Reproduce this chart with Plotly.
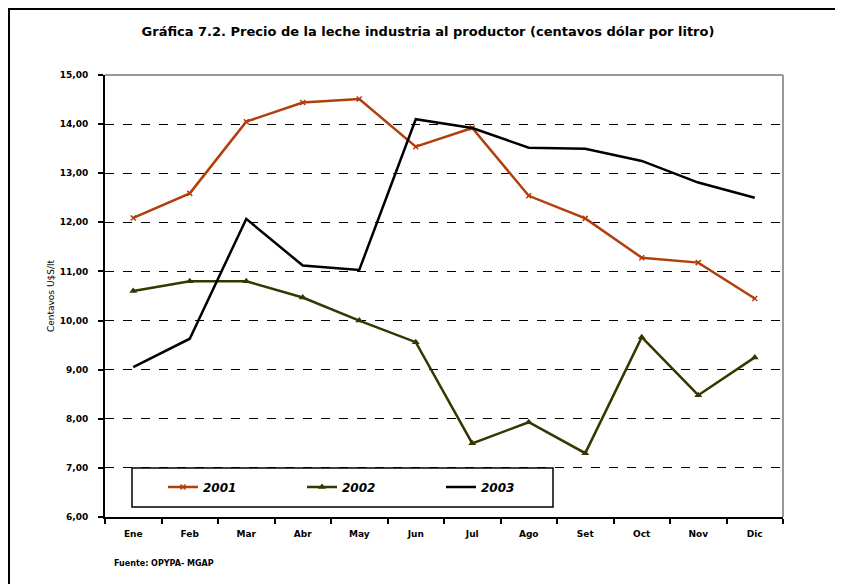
import plotly.graph_objects as go

months = ["Ene", "Feb", "Mar", "Abr", "May", "Jun", "Jul", "Ago", "Set", "Oct", "Nov", "Dic"]
v2001 = [12.09, 12.59, 14.05, 14.44, 14.51, 13.54, 13.92, 12.54, 12.08, 11.28, 11.18, 10.45]
v2002 = [10.60, 10.80, 10.80, 10.47, 10.00, 9.56, 7.50, 7.93, 7.30, 9.66, 8.48, 9.25]
v2003 = [9.05, 9.63, 12.07, 11.12, 11.03, 14.10, 13.92, 13.52, 13.50, 13.25, 12.81, 12.50]
yticks = [6, 7, 8, 9, 10, 11, 12, 13, 14, 15]

FONT = "DejaVu Sans"
OFF = 8  # page body margin
W, H = 843 - OFF, 584 - OFF
# plot area in page pixel coordinates
PL, PR, PT, PB = 105, 783, 75, 517
L, R, T, B = PL - OFF, W - (PR - OFF), PT - OFF, H - (PB - OFF)
pw, ph = PR - PL, PB - PT

def px(x):
    return (x - PL) / pw

def py(y):
    return (PB - y) / ph

fig = go.Figure()
fig.add_trace(go.Scatter(x=months, y=v2001, name="2001", mode="lines+markers",
                         line=dict(color="#B23E0C", width=2.5),
                         marker=dict(symbol="x-thin", size=5, color="#B23E0C",
                                     line=dict(color="#B23E0C", width=1.5))))
fig.add_trace(go.Scatter(x=months, y=v2002, name="2002", mode="lines+markers",
                         line=dict(color="#363600", width=2.5),
                         marker=dict(symbol="triangle-up", size=7, color="#363600")))
fig.add_trace(go.Scatter(x=months, y=v2003, name="2003", mode="lines",
                         line=dict(color="#000000", width=2.5)))

fig.update_layout(
    width=W, height=H,
    margin=dict(l=L, r=R, t=T, b=B),
    paper_bgcolor="white", plot_bgcolor="white",
    separators=",.",
    font=dict(family=FONT, size=9, color="#000"),
    title=dict(text="<b>Gráfica 7.2. Precio de la leche industria al productor (centavos dólar por litro)</b>",
               x=(428 - OFF) / W, xanchor="center", y=1 - (31 - OFF) / H, yanchor="middle",
               font=dict(family=FONT, size=13, color="#000")),
    xaxis=dict(type="category", tickson="boundaries", ticks="outside", ticklen=5,
               tickcolor="#000", tickwidth=1.5, showline=True, linecolor="#000", linewidth=2,
               showgrid=False, range=[-0.5, 11.5], ticklabelstandoff=7,
               tickfont=dict(family=FONT, size=9, weight="bold")),
    yaxis=dict(range=[6, 15], tickvals=yticks, tickformat=".2f", ticks="outside", ticklen=5,
               tickcolor="#000", tickwidth=1.5, showline=True, linecolor="#000", linewidth=2,
               showgrid=True, gridcolor="#000", gridwidth=1, griddash="dash",
               zeroline=False, ticklabelstandoff=8,
               tickfont=dict(family=FONT, size=9, weight="bold"),
               title=dict(text="Centavos U$S/lt", standoff=4,
                          font=dict(family=FONT, size=9))),
    legend=dict(orientation="h", x=px(163), y=py(487), xanchor="left", yanchor="middle",
                bgcolor="rgba(0,0,0,0)", borderwidth=0,
                entrywidth=94, entrywidthmode="pixels", itemwidth=30,
                font=dict(family=FONT, size=12, weight="bold", style="italic", color="#000")),
    showlegend=True,
)

# legend box
fig.add_shape(type="rect", xref="paper", yref="paper",
              x0=px(132), x1=px(553), y0=py(507), y1=py(468),
              line=dict(color="#000", width=1.5), fillcolor="white", layer="between")
# plot area top and right border (gray)
fig.add_shape(type="line", xref="paper", yref="paper", x0=0, x1=1, y0=1, y1=1,
              line=dict(color="#999", width=2))
fig.add_shape(type="line", xref="paper", yref="paper", x0=1, x1=1, y0=0, y1=1,
              line=dict(color="#999", width=2))
# outer frame
fig.add_shape(type="rect", xref="paper", yref="paper",
              x0=px(9), x1=px(900), y0=py(650), y1=py(9),
              line=dict(color="#000", width=2), fillcolor="rgba(0,0,0,0)", layer="above")

fig.add_annotation(text="<b>Fuente: OPYPA- MGAP</b>", xref="paper", yref="paper",
                   x=px(112), y=py(563), xanchor="left", yanchor="middle",
                   showarrow=False, font=dict(family=FONT, size=8))

fig.write_html("out.html")
